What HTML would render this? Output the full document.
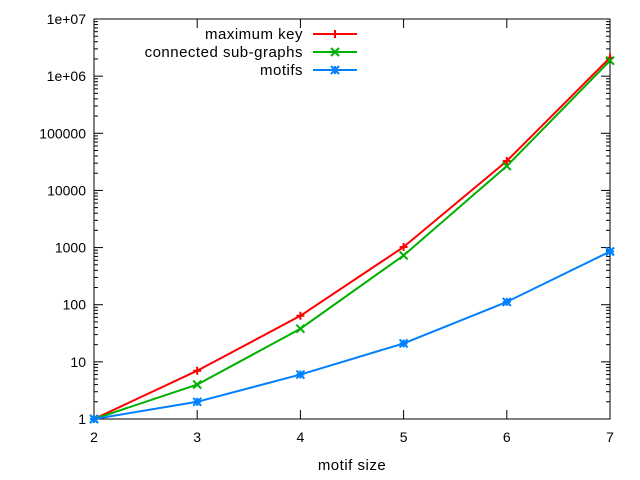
<!DOCTYPE html>
<html><head><meta charset="utf-8"><style>
body{margin:0;background:#fff}
svg{display:block;font-family:"Liberation Sans",sans-serif;font-size:14px}
.wide{font-size:15px;letter-spacing:0.5px}
</style></head><body>
<svg id="c" width="640" height="480"></svg>
<script>
const categories=[2,3,4,5,6,7];
const maxKey=[1,7,64,1024,32768,2097152];
const connected=[1,4,38,728,26704,1866256];
const motifs=[1,2,6,21,112,853];
const yTickLabels=["1","10","100","1000","10000","100000","1e+06","1e+07"];
const seriesNames=["maximum key","connected sub-graphs","motifs"];

const L=94,R=610,T=19,B=419,NS="http://www.w3.org/2000/svg";
const svg=document.getElementById('c');
const xs=v=>L+(v-2)/5*(R-L);
const ys=v=>B-Math.log10(v)/7*(B-T);
function el(t,a,p){const e=document.createElementNS(NS,t);for(const k in a)e.setAttribute(k,a[k]);(p||svg).appendChild(e);return e;}
const g=el('g',{stroke:'#000','stroke-width':1,fill:'none'});


for(let d=0;d<7;d++)for(let m=2;m<10;m++){const y=ys(m*Math.pow(10,d));
el('line',{x1:L,x2:L+4,y1:y,y2:y},g);el('line',{x1:R,x2:R-4,y1:y,y2:y},g);}
yTickLabels.forEach((t,i)=>{const y=ys(Math.pow(10,i));
el('line',{x1:L,x2:L+9,y1:y,y2:y},g);el('line',{x1:R,x2:R-9,y1:y,y2:y},g);
const tx=el('text',{x:L-8,y:y+5,'text-anchor':'end',fill:'#000',stroke:'none'});tx.textContent=t;

});
categories.forEach(c=>{const x=xs(c);
el('line',{x1:x,x2:x,y1:B,y2:B-9},g);el('line',{x1:x,x2:x,y1:T,y2:T+9},g);
const tx=el('text',{x:x,y:B+23,'text-anchor':'middle',fill:'#000',stroke:'none'});tx.textContent=c;

});
el('rect',{x:L,y:T,width:R-L,height:B-T},g);
const xt=el('text',{x:(L+R)/2,y:470,'text-anchor':'middle',fill:'#000','class':'wide'});xt.textContent='motif size';



const colors=['#ff0000','#00b000','#0080ff'];
const data=[maxKey,connected,motifs];
function marker(k,x,y,p){const s=4;
 if(k===0){el('path',{d:`M${x-s} ${y}H${x+s}M${x} ${y-s}V${y+s}`},p);}
 else if(k===1){el('path',{d:`M${x-s} ${y-s}L${x+s} ${y+s}M${x-s} ${y+s}L${x+s} ${y-s}`},p);}
 else{el('path',{d:`M${x-s} ${y}H${x+s}M${x} ${y-s}V${y+s}M${x-s} ${y-s}L${x+s} ${y+s}M${x-s} ${y+s}L${x+s} ${y-s}`},p);}}
data.forEach((arr,k)=>{
 const p=el('g',{stroke:colors[k],'stroke-width':2,fill:'none'});
 
 
 el('polyline',{points:arr.map((v,i)=>xs(categories[i])+','+ys(v)).join(' ')},p);
 arr.forEach((v,i)=>marker(k,xs(categories[i]),ys(v),p));
 const ly=34+18*k;
 const lt=el('text',{x:303,y:ly+5,'text-anchor':'end',fill:'#000',stroke:'none','class':'wide'});lt.textContent=seriesNames[k];
 
 
 const lg=el('g',{stroke:colors[k],'stroke-width':2});
 
 
 el('line',{x1:313,x2:357,y1:ly,y2:ly},lg);marker(k,335,ly,lg);
});
</script>
</body></html>
